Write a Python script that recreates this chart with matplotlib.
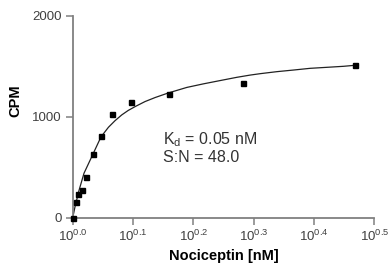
import numpy as np
import matplotlib
matplotlib.use("Agg")
import matplotlib.pyplot as plt
from matplotlib.ticker import FixedLocator, FuncFormatter, NullLocator

plt.rcParams['font.family'] = ['Liberation Sans', 'DejaVu Sans']
plt.rcParams['mathtext.fontset'] = 'custom'
plt.rcParams['mathtext.rm'] = 'Liberation Sans'

# measured points (x shown on log axis)
conc = [1.0, 1.0115, 1.0204, 1.0354, 1.051, 1.0806, 1.114, 1.162, 1.251, 1.443, 1.918, 2.937]
cpm = [0, 158, 230, 271, 400, 631, 809, 1027, 1141, 1227, 1329, 1510]

# fitted curve
fit_x = [1.0, 1.0088, 1.0243, 1.044, 1.0806, 1.114, 1.146, 1.175, 1.206, 1.236,
         1.269, 1.318, 1.370, 1.440, 1.546, 1.646, 1.756, 1.871, 1.968, 2.045,
         2.18, 2.322, 2.475, 2.638, 2.811, 2.976]
fit_y = [0, 108, 270, 440, 631, 800, 895, 960, 1018, 1062,
         1100, 1150, 1190, 1235, 1290, 1325, 1358, 1390, 1412, 1426,
         1446, 1462, 1479, 1489, 1499, 1512]

x_exps = [0.0, 0.1, 0.2, 0.3, 0.4, 0.5]
y_ticks = [0, 1000, 2000]

fig = plt.figure(figsize=(3.88, 2.70), dpi=100)
ax = fig.add_axes([0.1874, 0.1937, 0.7773, 0.7481])

ax.plot(fit_x, fit_y, color='#222222', lw=0.9, zorder=2)
ax.plot(conc, cpm, ls='none', marker='s', ms=3.6, color='black', clip_on=False, zorder=3)

ax.set_xscale('log')
ax.set_xlim(1.0, 10 ** 0.5)
ax.set_ylim(0, 2000)

ax.xaxis.set_major_locator(FixedLocator([10 ** e for e in x_exps]))
ax.xaxis.set_minor_locator(NullLocator())
ax.xaxis.set_major_formatter(FuncFormatter(
    lambda v, p: r'$\mathregular{10^{%.1f}}$' % np.log10(v)))
ax.set_yticks(y_ticks)

for s in ['top', 'right']:
    ax.spines[s].set_visible(False)
for s in ['left', 'bottom']:
    ax.spines[s].set_color('#808080')
    ax.spines[s].set_linewidth(1.3)

ax.tick_params(axis='both', which='major', length=5, width=1.1, color='#808080',
               labelsize=9.5, labelcolor='#404040', pad=3)

ax.set_xlabel('Nociceptin [nM]', fontsize=10.5, fontweight='bold')
ax.set_ylabel('CPM', fontsize=10.5, fontweight='bold')
ax.xaxis.set_label_coords(0.5, -0.155)
ax.yaxis.set_label_coords(-0.166, 0.578)

# fit results
ax.text(0.30, 0.365, r'K$_{\mathregular{d}}$ = 0.05 nM', transform=ax.transAxes,
        fontsize=11.5, color='#333333', va='baseline')
ax.text(0.30, 0.277, 'S:N = 48.0', transform=ax.transAxes,
        fontsize=11.5, color='#333333', va='baseline')

fig.savefig('out.png', dpi=100)
